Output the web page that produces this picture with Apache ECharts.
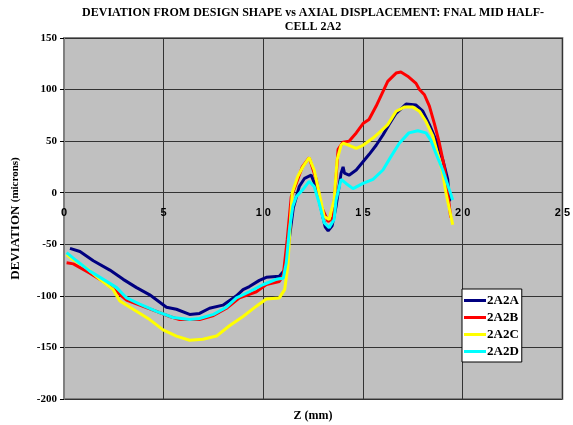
<!DOCTYPE html>
<html><head><meta charset="utf-8">
<script src="https://cdn.jsdelivr.net/npm/echarts@6/dist/echarts.min.js"></script>
<style>html,body{margin:0;padding:0;background:#fff}#c{width:573px;height:425px}</style>
</head><body><div id="c"></div>
<script>
const seriesNames = ['2A2A', '2A2B', '2A2C', '2A2D'];
const xTickLabels = ['0', '5', '1 0', '1 5', '2 0', '2 5'];
const yTickLabels = ['-200', '-150', '-100', '-50', '0', '50', '100', '150'];

const s2A2A = [[0.3,-54],[0.8,-57],[1.47,-66],[2.3,-75],[2.97,-84],[3.64,-92],[4.3,-99],[5.14,-111],[5.64,-113],[6.3,-118],[6.8,-117],[7.3,-112],[7.97,-109],[8.65,-100],[8.98,-94],[9.3,-91],[9.8,-85],[10.15,-82],[10.8,-81],[11.07,-75],[11.3,-45],[11.5,-15],[11.8,6],[12.07,14],[12.4,17],[12.65,5],[12.9,-16],[13.1,-33],[13.25,-37],[13.45,-32],[13.65,-13],[13.9,19],[14.0,25],[14.07,19],[14.3,17],[14.66,22],[15,30],[15.3,37],[15.66,46],[16,56],[16.3,66],[16.66,77],[17.0,83],[17.16,86],[17.66,85],[18,79],[18.33,66],[18.66,51],[19,32],[19.25,13],[19.33,-7],[19.4,-8]];
const s2A2B = [[0.13,-68],[0.47,-69],[1.3,-78],[1.97,-86],[2.64,-96],[3.14,-104],[3.8,-109],[4.64,-115],[5.3,-120],[5.8,-123],[6.8,-123],[7.5,-119],[8.15,-112],[8.8,-102],[9.65,-96],[10.15,-89],[10.8,-86],[11.0,-80],[11.2,-45],[11.4,-4],[11.65,9],[11.95,25],[12.3,34],[12.65,13],[12.9,-13],[13.25,-28],[13.5,-24],[13.75,42],[14.0,49],[14.3,50],[14.66,58],[15,67],[15.3,71],[15.66,84],[16,98],[16.24,108],[16.66,116],[16.9,117],[17.24,113],[17.66,106],[17.83,100],[18.08,95],[18.33,84],[18.58,67],[18.83,48],[19.08,25],[19.25,0],[19.4,-24]];
const s2A2C = [[0.13,-60],[0.47,-65],[1.14,-73],[1.8,-84],[2.47,-94],[2.8,-105],[3.47,-113],[4.3,-123],[4.97,-133],[5.64,-139],[6.3,-143],[6.97,-142],[7.65,-139],[8.3,-129],[8.98,-120],[9.65,-110],[10.15,-103],[10.8,-102],[11.07,-94],[11.23,-71],[11.35,-30],[11.45,0],[11.73,16],[11.98,25],[12.3,34],[12.55,22],[12.8,0],[13.05,-23],[13.3,-26],[13.55,-7],[13.7,32],[13.9,46],[14,48],[14.3,46],[14.66,43],[15,46],[15.5,53],[15.8,58],[16.24,66],[16.66,79],[17.07,83],[17.5,83],[17.83,79],[18.16,69],[18.5,55],[18.74,38],[19,19],[19.16,0],[19.5,-31]];
const s2A2D = [[0.13,-58],[0.63,-66],[1.3,-76],[1.97,-84],[2.64,-92],[3.14,-102],[3.8,-108],[4.64,-115],[5.47,-121],[6.3,-123],[6.8,-122],[7.5,-118],[8.15,-111],[8.65,-102],[9.3,-96],[10.0,-89],[10.65,-84],[11,-83],[11.15,-68],[11.3,-37],[11.48,-13],[11.65,-4],[11.98,3],[12.3,11],[12.55,6],[12.8,-10],[13.05,-29],[13.3,-34],[13.55,-26],[13.65,-7],[13.9,13],[14.15,9],[14.5,4],[15,9],[15.5,13],[16,22],[16.4,35],[16.82,48],[17.3,58],[17.75,60],[18.16,58],[18.4,51],[18.66,38],[19,22],[19.33,3],[19.5,-7]];

const seriesData = [s2A2A, s2A2B, s2A2C, s2A2D];
const colors = ['#000080', '#FF0000', '#FFFF00', '#00FFFF'];

const chart = echarts.init(document.getElementById('c'), null, {renderer: 'canvas'});
const serif = '"Liberation Serif", "Times New Roman", serif';
chart.setOption({
  animation: false,
  backgroundColor: '#ffffff',
  grid: {left: 64, right: 10, top: 38, bottom: 26, show: true, backgroundColor: '#C0C0C0', borderColor: '#808080', borderWidth: 2},
  graphic: [
    {type: 'text', x: 313, y: 6, style: {text: 'DEVIATION FROM DESIGN SHAPE vs AXIAL DISPLACEMENT: FNAL MID HALF-\nCELL 2A2', align: 'center', fill: '#000', font: 'bold 12px ' + serif, lineHeight: 14}},
    {type: 'text', x: 313, y: 410, style: {text: 'Z (mm)', align: 'center', fill: '#000', font: 'bold 12px ' + serif}}
  ],
  legend: {
    orient: 'vertical', left: 462, top: 289, data: seriesNames,
    icon: 'rect', itemWidth: 22, itemHeight: 3,
    backgroundColor: '#ffffff', borderColor: '#000', borderWidth: 1,
    padding: [5, 3, 4, 2], itemGap: 4,
    textStyle: {fontFamily: serif, fontWeight: 'bold', fontSize: 13, lineHeight: 13, color: '#000', padding: [0, 0, 0, -4]}
  },
  xAxis: {
    type: 'value', min: 0, max: 25, interval: 5, position: 'bottom', offset: -206,
    axisLine: {show: false, onZero: false},
    axisTick: {show: false},
    splitLine: {show: true, lineStyle: {color: '#333333', width: 1}},
    axisLabel: {margin: 14, fontFamily: '"Liberation Sans", Arial, sans-serif', fontWeight: 'bold', fontSize: 11, color: '#000',
      formatter: v => xTickLabels[Math.round(v / 5)]}
  },
  yAxis: {
    type: 'value', min: -200, max: 150, interval: 50,
    name: '{a|DEVIATION} {b|(microns)}', nameLocation: 'middle', nameRotate: 90, nameGap: 42,
    nameTextStyle: {rich: {a: {fontFamily: serif, fontWeight: 'bold', fontSize: 13, color: '#000'}, b: {fontFamily: serif, fontWeight: 'bold', fontSize: 11, color: '#000'}}},
    axisLine: {show: true, onZero: false, lineStyle: {color: '#808080', width: 2}},
    axisTick: {show: true, length: 4, lineStyle: {color: '#000'}},
    splitLine: {show: true, lineStyle: {color: '#333333', width: 1}},
    axisLabel: {margin: 7, fontFamily: serif, fontWeight: 'bold', fontSize: 11, color: '#000',
      formatter: v => yTickLabels[Math.round((v + 200) / 50)]}
  },
  series: seriesNames.map((n, i) => ({
    name: n, type: 'line', data: seriesData[i], symbol: 'none', showSymbol: false,
    lineStyle: {color: colors[i], width: 3}, itemStyle: {color: colors[i]}
  }))
});
</script></body></html>
